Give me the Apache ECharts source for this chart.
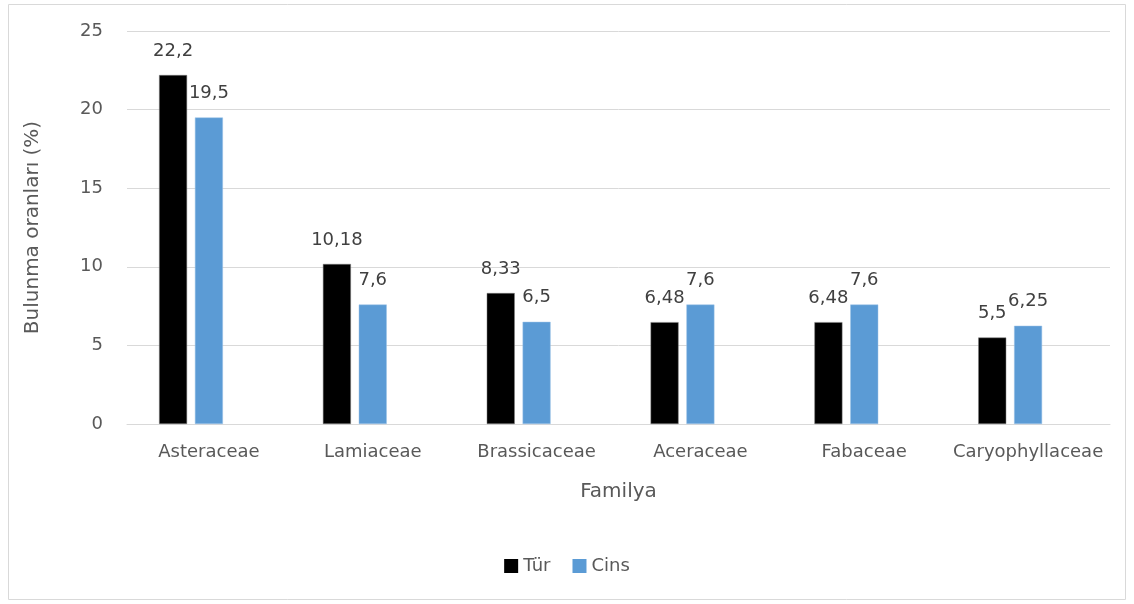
<!DOCTYPE html>
<html>
<head>
<meta charset="utf-8">
<script src="https://cdn.jsdelivr.net/npm/echarts@6/dist/echarts.min.js"></script>
<style>
  html, body { margin: 0; padding: 0; background: #fff; }
  #chart { width: 1134px; height: 604px; }
</style>
</head>
<body>
<div id="chart"></div>
<script>
// familya isimleri
var categories = ["Asteraceae", "Lamiaceae", "Brassicaceae", "Aceraceae", "Fabaceae", "Caryophyllaceae"];
var turData = [22.2, 10.18, 8.33, 6.48, 6.48, 5.5];
var cinsData = [19.5, 7.6, 6.5, 7.6, 7.6, 6.25];
var turLabels = ["22,2", "10,18", "8,33", "6,48", "6,48", "5,5"];
var cinsLabels = ["19,5", "7,6", "6,5", "7,6", "7,6", "6,25"];
// excel'deki boş üçüncü seri (yer tutucu)
var emptyData = [null, null, null, null, null, null];
var yTicks = { min: 0, max: 25, interval: 5 };

var font = "'DejaVu Sans', sans-serif";
var chart = echarts.init(document.getElementById("chart"));

var labelStyle = function (arr) {
  return {
    show: true,
    position: "top",
    distance: 15,
    color: "#404040",
    fontSize: 18,
    fontFamily: font,
    formatter: function (p) {
      return arr[p.dataIndex];
    },
  };
};

chart.setOption({
  animation: false,
  textStyle: { fontFamily: font },
  graphic: [
    {
      type: "rect",
      shape: { x: 8.5, y: 4.5, width: 1117, height: 595 },
      style: { fill: "none", stroke: "#d9d9d9", lineWidth: 1 },
      silent: true,
    },
  ],
  legend: {
    data: ["Tür", "Cins"],
    bottom: 24,
    left: "center",
    itemWidth: 14,
    itemHeight: 14,
    itemGap: 22,
    icon: "rect",
    itemStyle: { borderWidth: 0 },
    textStyle: { color: "#595959", fontSize: 18, fontFamily: font },
  },
  grid: {
    left: 127,
    right: 24,
    top: 31,
    bottom: 180,
  },
  xAxis: {
    type: "category",
    data: categories,
    name: "Familya",
    nameLocation: "middle",
    nameGap: 58,
    nameTextStyle: { color: "#595959", fontSize: 20, fontFamily: font },
    axisLine: { lineStyle: { color: "#d9d9d9", width: 1 } },
    axisTick: { show: false },
    axisLabel: { color: "#595959", fontSize: 18, margin: 19, interval: 0, fontFamily: font },
  },
  yAxis: {
    type: "value",
    min: yTicks.min,
    max: yTicks.max,
    interval: yTicks.interval,
    name: "Bulunma oranları (%)",
    nameLocation: "middle",
    nameGap: 84,
    nameTextStyle: { color: "#595959", fontSize: 20, fontFamily: font },
    axisLine: { show: false },
    axisTick: { show: false },
    axisLabel: { color: "#595959", fontSize: 18, margin: 24, fontFamily: font },
    splitLine: { lineStyle: { color: "#d9d9d9", width: 1 } },
  },
  series: [
    {
      name: "Tür",
      type: "bar",
      data: turData,
      barWidth: 28,
      barGap: "28%",
      itemStyle: { color: "#000000", borderColor: "#7f7f7f", borderWidth: 0.5 },
      label: labelStyle(turLabels),
    },
    {
      name: "Cins",
      type: "bar",
      data: cinsData,
      barWidth: 28,
      itemStyle: { color: "#5b9bd5", borderColor: "#9dc3e6", borderWidth: 0.5 },
      label: labelStyle(cinsLabels),
    },
    {
      name: "",
      type: "bar",
      data: emptyData,
      barWidth: 28,
    },
  ],
});
</script>
</body>
</html>
